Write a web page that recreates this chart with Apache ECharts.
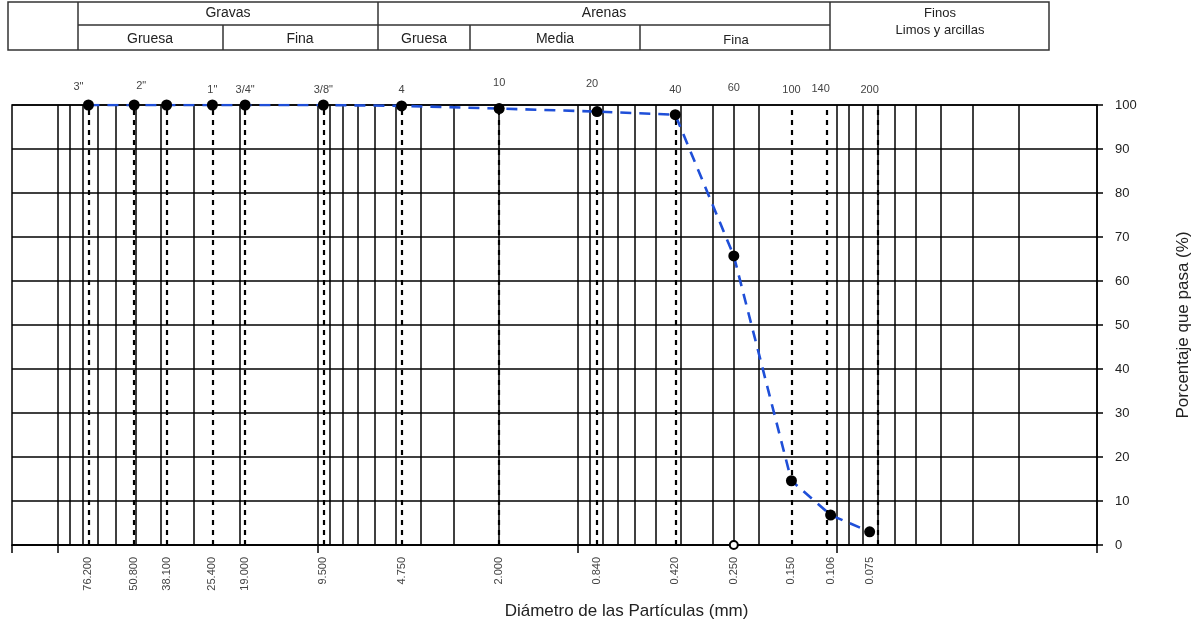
<!DOCTYPE html>
<html>
<head>
<meta charset="utf-8">
<script src="https://cdn.jsdelivr.net/npm/echarts@6/dist/echarts.min.js"></script>
<style>html,body{margin:0;padding:0;background:#fff;overflow:hidden}#c{width:1202px;height:628px}</style>
</head>
<body>
<div id="c"></div>
<script>
// ---- data ----
const sieveSizes = [76.2, 50.8, 38.1, 25.4, 19.0, 9.5, 4.75, 2.0, 0.84, 0.42, 0.25, 0.15, 0.106, 0.075];
const sieveNames = ['3"', '2"', '1"', '3/4"', '3/8"', '4', '10', '20', '40', '60', '100', '140', '200'];
const sieveNameSizes = [76.2, 50.8, 25.4, 19.0, 9.5, 4.75, 2.0, 0.84, 0.42, 0.25, 0.15, 0.106, 0.075];
const percentPassing = [100, 100, 100, 100, 100, 100, 99.8, 99.2, 98.5, 97.8, 65.7, 14.6, 6.8, 3.0];
const yTicks = [0, 10, 20, 30, 40, 50, 60, 70, 80, 90, 100];

// log grid lines (1..9 x 10^k) inside axis range
const gridVals = [];
[0.01, 0.1, 1, 10, 100].forEach(function (d) {
  for (let k = 1; k <= 9; k++) { const v = +(k * d).toPrecision(3); if (v > 0.01 && v <= 150) gridVals.push(v); }
});

const FONT = '"Liberation Sans", Arial, sans-serif';
const chart = echarts.init(document.getElementById('c'));

// small per-label offsets of the sieve names (padding: top, right, bottom, left)
const namePads = [[0, 20, 3, 0], [0, 0, 4, 14], [0, 0, 0, 0], [0, 0, 0, 0], [0, 0, 0, 0], [0, 0, 0, 0],
  [0, 0, 7, 0], [0, 10, 6, 0], [0, 0, 0, 0], [0, 0, 2, 0], [0, 0, 0, 0], [0, 20, 1, 0], [0, 0, 0, 0]];
const nameMap = {};
const nameRich = {};
sieveNameSizes.forEach(function (s, i) {
  nameMap[s.toFixed(3)] = i;
  nameRich['n' + i] = { fontSize: 11, color: '#444', padding: namePads[i], fontFamily: FONT };
});

// header table
const L = '#333';
function hl(x1, y1, x2, y2) { return { type: 'line', shape: { x1: x1, y1: y1, x2: x2, y2: y2 }, style: { stroke: L, lineWidth: 1.5 } }; }
function tx(x, y, t, fs) { return { type: 'text', x: x, y: y, style: { text: t, fill: '#222', font: (fs || 14) + 'px ' + FONT, textAlign: 'center', textVerticalAlign: 'middle' } }; }
const graphics = [
  { type: 'rect', shape: { x: 8, y: 2, width: 1041, height: 48 }, style: { fill: 'none', stroke: L, lineWidth: 1.5 } },
  hl(78, 2, 78, 50), hl(378, 2, 378, 50), hl(830, 2, 830, 50),
  hl(78, 25, 830, 25), hl(223, 25, 223, 50), hl(470, 25, 470, 50), hl(640, 25, 640, 50),
  tx(228, 13, 'Gravas'), tx(604, 13, 'Arenas'),
  tx(150, 39, 'Gruesa'), tx(300, 39, 'Fina'), tx(424, 39, 'Gruesa'), tx(555, 39, 'Media'), tx(736, 40, 'Fina', 13),
  tx(940, 13, 'Finos', 13), tx(940, 30, 'Limos y arcillas', 13)
];

const option = {
  animation: false,
  textStyle: { fontFamily: FONT },
  grid: { left: 12, right: 105, top: 105, bottom: 83, outerBoundsMode: 'none', containLabel: false,
    show: true, borderColor: '#000', borderWidth: 1.5 },
  graphic: graphics,
  xAxis: [
    {
      type: 'log', min: 0.01, max: 150, inverse: true, position: 'bottom',
      axisLine: { lineStyle: { color: '#000', width: 1.5 } },
      axisTick: { show: true, length: 8, lineStyle: { color: '#000', width: 1.5 } },
      splitLine: { show: false },
      axisLabel: {
        customValues: sieveSizes, rotate: 90, fontSize: 11, color: '#444', margin: 12,
        formatter: function (v) { return (+v).toFixed(3); }
      },
      name: 'Diámetro de las Partículas (mm)', nameLocation: 'middle', nameGap: 58,
      nameTextStyle: { fontSize: 17, color: '#222', padding: [0, 0, 0, 144] }
    },
    {
      type: 'log', min: 0.01, max: 150, inverse: true, position: 'top',
      axisLine: { show: false }, axisTick: { show: false }, splitLine: { show: false },
      axisLabel: {
        customValues: sieveNameSizes, margin: 10, rich: nameRich,
        formatter: function (v) {
          const i = nameMap[(+v).toFixed(3)];
          return i === undefined ? '' : '{n' + i + '|' + sieveNames[i] + '}';
        }
      }
    }
  ],
  yAxis: {
    type: 'value', position: 'right', min: 0, max: 100, interval: 10,
    axisLine: { show: true, lineStyle: { color: '#000', width: 1.5 } },
    axisTick: { show: true, length: 6, lineStyle: { color: '#000', width: 1.5 } },
    splitLine: { lineStyle: { color: '#000', width: 1.5 } },
    axisLabel: { fontSize: 13, color: '#222', margin: 18, customValues: yTicks },
    name: 'Porcentaje que pasa (%)', nameLocation: 'middle', nameGap: 78, nameRotate: 90,
    nameTextStyle: { fontSize: 17, color: '#222' }
  },
  series: [
    {
      type: 'line', data: [], silent: true,
      markLine: {
        silent: true, symbol: 'none', label: { show: false },
        lineStyle: { color: '#000', width: 1.5, type: 'solid' },
        data: gridVals.map(function (v) { return { xAxis: v }; })
      }
    },
    {
      type: 'line', data: [], silent: true, z: 3,
      markLine: {
        silent: true, symbol: 'none', label: { show: false },
        data: sieveSizes.map(function (v) {
          return { xAxis: v, lineStyle: v === 0.25 ? { color: '#000', width: 1.5, type: 'solid' } : { color: '#000', width: 2.2, type: [5, 5] } };
        })
      },
      markPoint: {
        silent: true, symbol: 'emptyCircle', symbolSize: 8, z: 6,
        itemStyle: { color: '#000', borderWidth: 1.2 }, label: { show: false },
        data: [{ coord: [0.25, 0] }]
      }
    },
    {
      type: 'line', z: 5,
      data: sieveSizes.map(function (s, i) { return [s, percentPassing[i]]; }),
      lineStyle: { color: '#1f4fd8', width: 2.6, type: [11, 8] },
      symbol: 'circle', symbolSize: 11, itemStyle: { color: '#000' }
    }
  ]
};
chart.setOption(option);
</script>
</body>
</html>
